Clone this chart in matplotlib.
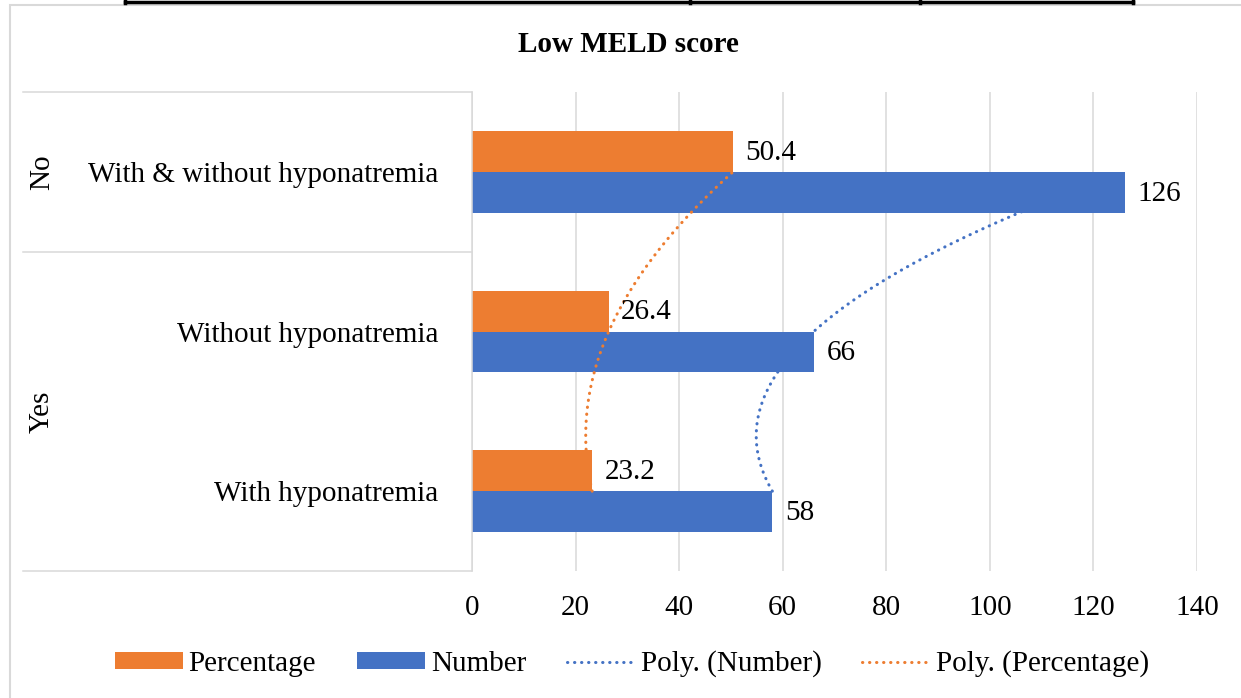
import numpy as np
import matplotlib
matplotlib.use("Agg")
import matplotlib.pyplot as plt
import matplotlib.transforms as mtransforms
from matplotlib.patches import Patch, Rectangle
from matplotlib.lines import Line2D

# ---- data (bottom to top, like Excel) ----
categories = ["With hyponatremia", "Without hyponatremia", "With & without hyponatremia"]
groups = ["Yes", "No"]
group_span = [(0.5, 2.5), (2.5, 3.5)]
number = [58, 66, 126]
percentage = [23.2, 26.4, 50.4]
xticks = [0, 20, 40, 60, 80, 100, 120, 140]

ORANGE = "#ED7D31"
BLUE = "#4472C4"
GRID = "#D9D9D9"
DOT = (0, (0.1, 2.2))

plt.rcParams['font.family'] = ['Liberation Serif', 'DejaVu Serif']
FS = 21

W, H = 1241, 698
fig = plt.figure(figsize=(W / 100, H / 100), dpi=100)


def fx(x):
    return x / W


def fy(y):
    return 1 - y / H


# plot area in pixels: x 472..1197, y 92..571
ax = fig.add_axes([fx(472), fy(571), (1197 - 472) / W, (571 - 92) / H])

pos = np.arange(1, len(categories) + 1)
bh = 0.256
ax.barh(pos + bh / 2, percentage, height=bh, color=ORANGE, zorder=2)
ax.barh(pos - bh / 2, number, height=bh, color=BLUE, zorder=2)

# polynomial (order 2) trendlines, like Excel
tt = np.linspace(pos[0], pos[-1], 300)
for vals, col in [(number, BLUE), (percentage, ORANGE)]:
    coef = np.polyfit(pos, vals, 2)
    ax.plot(np.polyval(coef, tt), tt, color=col, lw=2.2,
            linestyle=DOT, dash_capstyle='round', zorder=3)

# data labels
for p, v in zip(pos, percentage):
    ax.annotate(f"{v:g}", xy=(v, p + bh / 2), xytext=(9, -1), textcoords='offset points',
                va='center', ha='left', fontsize=FS)
for p, v in zip(pos, number):
    ax.annotate(f"{v:g}", xy=(v, p - bh / 2), xytext=(9, -1), textcoords='offset points',
                va='center', ha='left', fontsize=FS)

ax.set_xlim(0, 140)
ax.set_ylim(0.5, 3.5)
ax.set_xticks(xticks)
ax.set_xticklabels([str(t) for t in xticks], fontsize=FS)
ax.set_yticks(pos)
ax.set_yticklabels(categories, fontsize=FS)
ax.tick_params(axis='x', length=0, pad=17)
ax.tick_params(axis='y', length=0, pad=24)
ax.grid(axis='x', color=GRID, lw=1.1, zorder=0)
ax.set_axisbelow(True)
for s in ['top', 'right', 'bottom']:
    ax.spines[s].set_visible(False)
ax.spines['left'].set_color(GRID)
ax.spines['left'].set_linewidth(1.1)

# multi-level category box on the left
blend = mtransforms.blended_transform_factory(fig.transFigure, ax.transData)
for yb in [0.5, 2.5, 3.5]:
    ax.plot([fx(23), fx(472)], [yb, yb], color=GRID, lw=1.1, transform=blend, clip_on=False)
for g, (lo, hi) in zip(groups, group_span):
    ax.text(fx(42), (lo + hi) / 2, g, rotation=90, ha='center', va='center',
            fontsize=FS, transform=blend)

# title
fig.text(fx(628), fy(44), "Low MELD score", ha='center', va='center',
         fontsize=FS, fontweight='bold')

# legend
handles = [Patch(facecolor=ORANGE), Patch(facecolor=BLUE),
           Line2D([], [], color=BLUE, lw=2.2, linestyle=DOT, dash_capstyle='round'),
           Line2D([], [], color=ORANGE, lw=2.2, linestyle=DOT, dash_capstyle='round')]
labels = ["Percentage", "Number", "Poly. (Number)", "Poly. (Percentage)"]
fig.legend(handles, labels, loc='center', bbox_to_anchor=(fx(632), fy(664)), ncol=4,
           frameon=False, fontsize=FS, handlelength=2.33, handleheight=0.52,
           handletextpad=0.2, columnspacing=1.4, borderpad=0)

# chart area border
fig.patches.append(Rectangle((fx(10), fy(H + 10)), fx(W + 20), fy(5) - fy(H + 10),
                             transform=fig.transFigure, fill=False, ec=GRID, lw=1.5))

# leftover table border at the top of the page
fig.lines.append(Line2D([fx(125), fx(1133)], [fy(2), fy(2)], color='black', lw=2.5,
                        transform=fig.transFigure))
for xv in [125, 690, 920, 1133]:
    fig.lines.append(Line2D([fx(xv), fx(xv)], [fy(-2), fy(3)], color='black', lw=2.5,
                            transform=fig.transFigure))

fig.savefig("out.png", dpi=100)
